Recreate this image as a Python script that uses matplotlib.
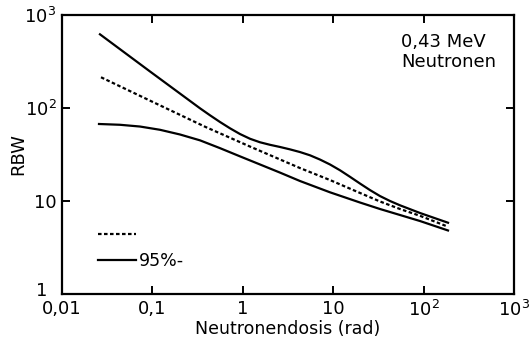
import matplotlib
matplotlib.use("Agg")
import matplotlib.pyplot as plt
from matplotlib.lines import Line2D
from matplotlib.transforms import ScaledTranslation

# Data (dose in rad, RBW)
upper_x = [0.0263, 0.0941, 0.336, 0.4337, 0.5596, 0.7218, 0.931, 1.201, 1.550, 2.000,
           2.579, 3.328, 4.293, 5.539, 7.145, 9.218, 11.89, 15.34, 19.80, 25.54,
           32.94, 42.50, 54.82, 91.25, 186.2]
upper_y = [620, 247, 99.3, 83.5, 70.7, 60.5, 52.5, 46.7, 42.8, 40.2,
           38.1, 35.9, 33.6, 31.0, 27.9, 24.7, 21.4, 18.2, 15.4, 13.1,
           11.3, 10.0, 8.99, 7.43, 5.84]

mid_x = [0.0270, 0.0941, 0.382, 1.201, 4.293, 9.218, 19.80, 32.94, 54.82, 91.25, 186.2]
mid_y = [214, 120, 62.9, 38.5, 22.6, 16.8, 12.2, 9.88, 8.20, 6.93, 5.29]

lower_x = [0.02566, 0.0438, 0.0729, 0.1214, 0.2019, 0.336, 0.5596, 0.931, 1.550, 2.579,
           4.293, 9.218, 19.80, 32.94, 54.82, 91.25, 186.2]
lower_y = [67.3, 66.0, 63.2, 58.3, 51.9, 44.9, 37.0, 30.2, 24.7, 20.2,
           16.4, 12.4, 9.63, 8.20, 7.07, 6.09, 4.82]

x_ticks = [0.01, 0.1, 1, 10, 100, 1000]
x_labels = ["0,01", "0,1", "1", "10", "10$^2$", "10$^3$"]
y_ticks = [1, 10, 100, 1000]
y_labels = ["1", "10", "10$^2$", "10$^3$"]

fig = plt.figure(figsize=(5.29, 3.43), dpi=100)
ax = fig.add_axes([62/529, 1-294/343, 452/529, 279/343])

lw = 1.6
dash = (0, (1.6, 1.1))
ax.plot(upper_x, upper_y, color="black", lw=lw, solid_joinstyle="round")
ax.plot(lower_x, lower_y, color="black", lw=lw, solid_joinstyle="round")
ax.plot(mid_x, mid_y, color="black", lw=lw, linestyle=dash)

ax.set_xscale("log")
ax.set_yscale("log")
ax.set_xlim(0.01, 1000)
ax.set_ylim(1, 1000)

ax.set_xticks(x_ticks)
ax.set_xticklabels(x_labels)
ax.set_yticks(y_ticks)
ax.set_yticklabels(y_labels)
ax.minorticks_off()
ax.tick_params(which="major", direction="in", length=6, width=1.4,
               top=True, right=True, labelsize=13, pad=4)
for s in ax.spines.values():
    s.set_linewidth(1.6)

# the "1" on the y axis sits a little higher and further left
lab1 = ax.get_yticklabels()[0]
lab1.set_transform(lab1.get_transform() + ScaledTranslation(-9/100, 5/100, fig.dpi_scale_trans))

ax.set_xlabel("Neutronendosis (rad)", fontsize=12.5, labelpad=0)
ax.set_ylabel("RBW", fontsize=13, labelpad=-2)

ax.text(0.75, 0.935, "0,43 MeV\nNeutronen", transform=ax.transAxes,
        ha="left", va="top", fontsize=13, linespacing=1.1)

handles = [Line2D([], [], color="black", lw=lw, linestyle=dash),
           Line2D([], [], color="black", lw=lw)]
ax.legend(handles, ["", "95%-"], loc="lower left", frameon=False,
          fontsize=12.5, handlelength=2.2, handletextpad=0.15,
          labelspacing=0.45, bbox_to_anchor=(0.045, 0.03))

fig.savefig("out.png", dpi=100)
